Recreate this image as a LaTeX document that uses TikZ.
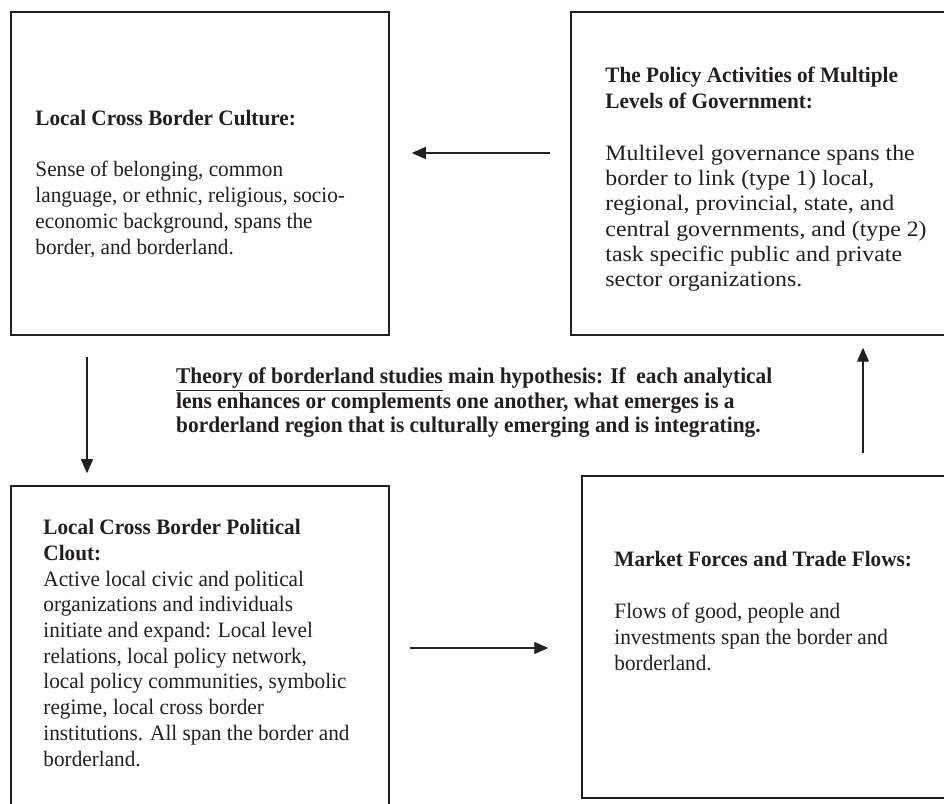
\documentclass[tikz,border=0pt]{standalone}
\usepackage{fontspec}
\setmainfont{Liberation Serif}
\newfontfamily\lensfont{Liberation Serif}[FakeStretch=0.965]
\newfontfamily\policyfont{Liberation Serif}[FakeStretch=1.084]
\newfontfamily\hypofont{Liberation Serif}[FakeStretch=0.95]
\usetikzlibrary{arrows.meta, positioning, calc}
\definecolor{ink}{RGB}{35,31,32}
\tikzset{%
	lens/.style={draw=ink, line width=1.5pt, rectangle, inner sep=0pt},
	lenstext/.style={inner sep=0pt, anchor=north west, align=left, text=ink,%
		font=\lensfont\fontsize{22}{25.8}\selectfont},
	hypo/.style={inner sep=0pt, anchor=north west, align=left, text=ink,%
		font=\hypofont\bfseries\fontsize{22.5}{24.5}\selectfont},
	flow/.style={draw=ink, line width=1.3pt, -{Triangle[length=14pt,width=12pt]}}
}
\begin{document}
\begin{tikzpicture}[x=1pt, y=1pt]
	\useasboundingbox (0,0) rectangle (944,803);
	\clip (0,0) rectangle (944,803);

	% the four analytical lenses
	\node[lens, minimum width=378pt, minimum height=323pt] (culture)  at (200,629.5)   {};
	\node[lens, minimum width=394pt, minimum height=323pt] (policy)   at (768,629.5)   {};
	\node[lens, minimum width=378pt, minimum height=344pt] (clout)    at (200,145)     {};
	\node[lens, minimum width=383pt, minimum height=322pt] (market)   at (773.5,166)   {};

	\node[lenstext, font=\lensfont\fontsize{22}{26}\selectfont] (cultureText)
		at ([xshift=25pt, yshift=-99pt]culture.north west)
		{\textbf{Local Cross Border Culture:}\\[25pt]
		 Sense of belonging, common\\
		 language, or ethnic, religious, socio-\\
		 economic background, spans the\\
		 border, and borderland.};
	\node[lenstext, font=\lensfont\fontsize{22}{25.3}\selectfont] (policyText)
		at ([xshift=35pt, yshift=-56pt]policy.north west)
		{\textbf{The Policy Activities of Multiple}\\
		 \textbf{Levels of Government:}\\[26.7pt]
		 \policyfont Multilevel governance spans the\\
		 \policyfont border to link (type 1) local,\\
		 \policyfont regional, provincial, state, and\\
		 \policyfont central governments, and (type 2)\\
		 \policyfont task specific public and private\\
		 \policyfont sector organizations.};
	\node[lenstext, font=\lensfont\fontsize{22}{25.7}\selectfont] (cloutText)
		at ([xshift=33pt, yshift=-34pt]clout.north west)
		{\textbf{Local Cross Border Political}\\
		 \textbf{Clout:}\\
		 Active local civic and political\\
		 organizations and individuals\\
		 initiate and expand: Local level\\
		 relations, local policy network,\\
		 local policy communities, symbolic\\
		 regime, local cross border\\
		 institutions. All span the border and\\
		 borderland.};
	\node[lenstext] (marketText) at ([xshift=33pt, yshift=-76pt]market.north west)
		{\textbf{Market Forces and Trade Flows:}\\[26pt]
		 Flows of good, people and\\
		 investments span the border and\\
		 borderland.};

	% main hypothesis in the middle
	\node[hypo] (hypothesis) at (176,435.3)
		{\underline{Theory of borderland studies} main hypothesis: If\ \ each analytical\\
		 lens enhances or complements one another, what emerges is a\\
		 borderland region that is culturally emerging and is integrating.};

	\draw[flow] ([xshift=-20pt, yshift=20.5pt]policy.west)  -- ([xshift=22pt, yshift=20.5pt]culture.east);
	\draw[flow] ([xshift=-113pt, yshift=-21pt]culture.south) -- ([xshift=-113pt, yshift=12pt]clout.north);
	\draw[flow] ([xshift=20pt, yshift=10pt]clout.east)       -- ([xshift=-33pt, yshift=-11pt]market.west);
	\draw[flow] ([xshift=89.5pt, yshift=22pt]market.north)  -- ([xshift=95pt, yshift=-12pt]policy.south);
\end{tikzpicture}
\end{document}
